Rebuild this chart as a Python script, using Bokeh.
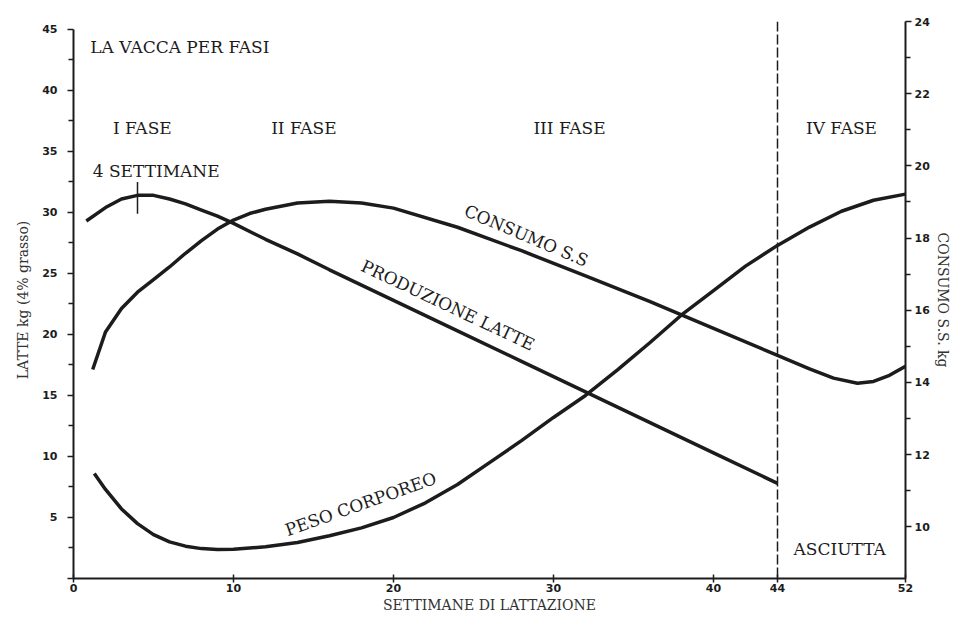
from bokeh.plotting import figure
from bokeh.models import LinearAxis, Range1d, FixedTicker, Label, Span
from bokeh.embed import file_html
from bokeh.resources import INLINE

# ---- data ----
milk_weeks = [0.8, 2, 3, 4, 5, 6, 7, 8, 9, 10, 12, 14, 16, 20, 24, 28, 32, 36, 40, 44]
milk_kg = [29.3, 30.4, 31.1, 31.4, 31.4, 31.1, 30.7, 30.2, 29.7, 29.1, 27.8, 26.6,
           25.3, 22.8, 20.3, 17.8, 15.3, 12.8, 10.3, 7.8]

dm_weeks = [1.2, 2, 3, 4, 5, 6, 7, 8, 9, 10, 11, 12, 14, 16, 18, 20, 24, 28, 32, 36,
            40, 44, 46, 47.5, 49, 50, 51, 52]
dm_kg = [14.36, 15.4, 16.05, 16.5, 16.85, 17.2, 17.58, 17.93, 18.25, 18.5, 18.68, 18.8,
         18.97, 19.02, 18.97, 18.83, 18.3, 17.65, 16.95, 16.25, 15.5, 14.75, 14.38,
         14.12, 13.98, 14.03, 14.2, 14.45]

bw_weeks = [1.3, 2, 3, 4, 5, 6, 7, 8, 9, 10, 12, 14, 16, 18, 20, 22, 24, 26, 28, 30,
            32, 34, 36, 38, 40, 42, 44, 46, 48, 50, 52]
bw_rel = [8.6, 7.3, 5.7, 4.5, 3.6, 3.0, 2.65, 2.45, 2.38, 2.4, 2.6, 2.95, 3.5, 4.15,
          5.0, 6.2, 7.7, 9.5, 11.3, 13.2, 15.0, 17.1, 19.3, 21.6, 23.6, 25.6, 27.3,
          28.8, 30.1, 31.0, 31.5]

x_ticks = [0, 10, 20, 30, 40, 44, 52]
milk_ticks = [0, 5, 10, 15, 20, 25, 30, 35, 40, 45]
milk_minor = [2.5, 7.5, 12.5, 17.5, 22.5, 27.5, 32.5, 37.5, 42.5]
dm_ticks = [10, 12, 14, 16, 18, 20, 22, 24]
dm_minor = [11, 13, 15, 17, 19, 21, 23]
dry_off_week = 44
peak_week = 4

phase_labels = ["I FASE", "II FASE", "III FASE", "IV FASE"]
phase_weeks = [4.3, 14.4, 31.0, 48.0]

INK = "#1c1c1c"
SERIF = "DejaVu Serif"

p = figure(width=953, height=616, output_backend="svg", toolbar_location=None,
           x_range=Range1d(0, 52), y_range=Range1d(0, 45.65),
           min_border_left=73, min_border_right=42, min_border_top=21,
           min_border_bottom=38)
p.extra_y_ranges = {"dm": Range1d(8.57, 24.0)}
p.grid.visible = False
p.outline_line_color = None
p.background_fill_color = "white"
p.border_fill_color = "white"

# x axis
xa = p.xaxis[0]
xa.ticker = FixedTicker(ticks=x_ticks, minor_ticks=[])
xa.axis_label = "SETTIMANE DI LATTAZIONE"
xa.major_tick_in = 4
xa.major_tick_out = 4
xa.major_label_standoff = 1
xa.axis_label_standoff = 2

# left axis
ya = p.yaxis[0]
ya.ticker = FixedTicker(ticks=milk_ticks, minor_ticks=milk_minor)
ya.bounds = (0, 45)
ya.major_label_overrides = {0: ""}
ya.axis_label = "LATTE kg (4% grasso)"
ya.major_tick_in = 0
ya.major_tick_out = 6
ya.minor_tick_in = 0
ya.minor_tick_out = 5
ya.major_label_standoff = 10
ya.axis_label_standoff = 8

# right axis
ra = LinearAxis(y_range_name="dm", axis_label="CONSUMO S.S. kg")
ra.ticker = FixedTicker(ticks=dm_ticks, minor_ticks=dm_minor)
ra.bounds = (8.57, 24)
ra.major_tick_in = 0
ra.major_tick_out = 6
ra.minor_tick_in = 0
ra.minor_tick_out = 5
ra.major_label_standoff = 3
ra.axis_label_standoff = 2
p.add_layout(ra, "right")

for ax in (xa, ya, ra):
    ax.axis_line_color = INK
    ax.axis_line_width = 2
    ax.major_tick_line_color = INK
    ax.major_tick_line_width = 1.5
    ax.minor_tick_line_color = INK
    ax.minor_tick_line_width = 1.5
    ax.major_label_text_font = "DejaVu Sans"
    ax.major_label_text_font_style = "bold"
    ax.major_label_text_font_size = "11px"
    ax.major_label_text_color = INK
    ax.axis_label_text_font = SERIF
    ax.axis_label_text_font_style = "normal"
    ax.axis_label_text_font_size = "14px"
    ax.axis_label_text_color = "#333333"

# curves
p.line(milk_weeks, milk_kg, line_width=3.5, line_color=INK)
p.line(dm_weeks, dm_kg, y_range_name="dm", line_width=3.5, line_color=INK)
p.line(bw_weeks, bw_rel, line_width=3.5, line_color=INK)

# marker at peak of lactation
peak_val = milk_kg[milk_weeks.index(peak_week)]
p.segment(x0=[peak_week], y0=[peak_val - 1.5], x1=[peak_week], y1=[peak_val + 1.1],
          line_width=1.5, line_color=INK)

# dry-off line
p.add_layout(Span(location=dry_off_week, dimension="height", line_color=INK,
                  line_width=1.5, line_dash="10 3"))


def lab(text, x, y, angle=0.0, align="left", size="17px"):
    p.add_layout(Label(x=x, y=y, text=text, angle=angle, text_align=align,
                       text_baseline="middle", text_font=SERIF,
                       text_font_size=size, text_color=INK))


lab("LA VACCA PER FASI", 1.05, 43.6)
for t, w in zip(phase_labels, phase_weeks):
    lab(t, w, 36.9, align="center")
lab("4 SETTIMANE", 1.2, 33.4)
lab("ASCIUTTA", 45.0, 2.4)
lab("CONSUMO S.S", 28.3, 28.1, angle=-0.40, align="center")
lab("PRODUZIONE LATTE", 23.4, 22.4, angle=-0.44, align="center")
lab("PESO CORPOREO", 17.95, 6.1, angle=0.34, align="center")

open("out.html", "w").write(file_html(p, INLINE))
